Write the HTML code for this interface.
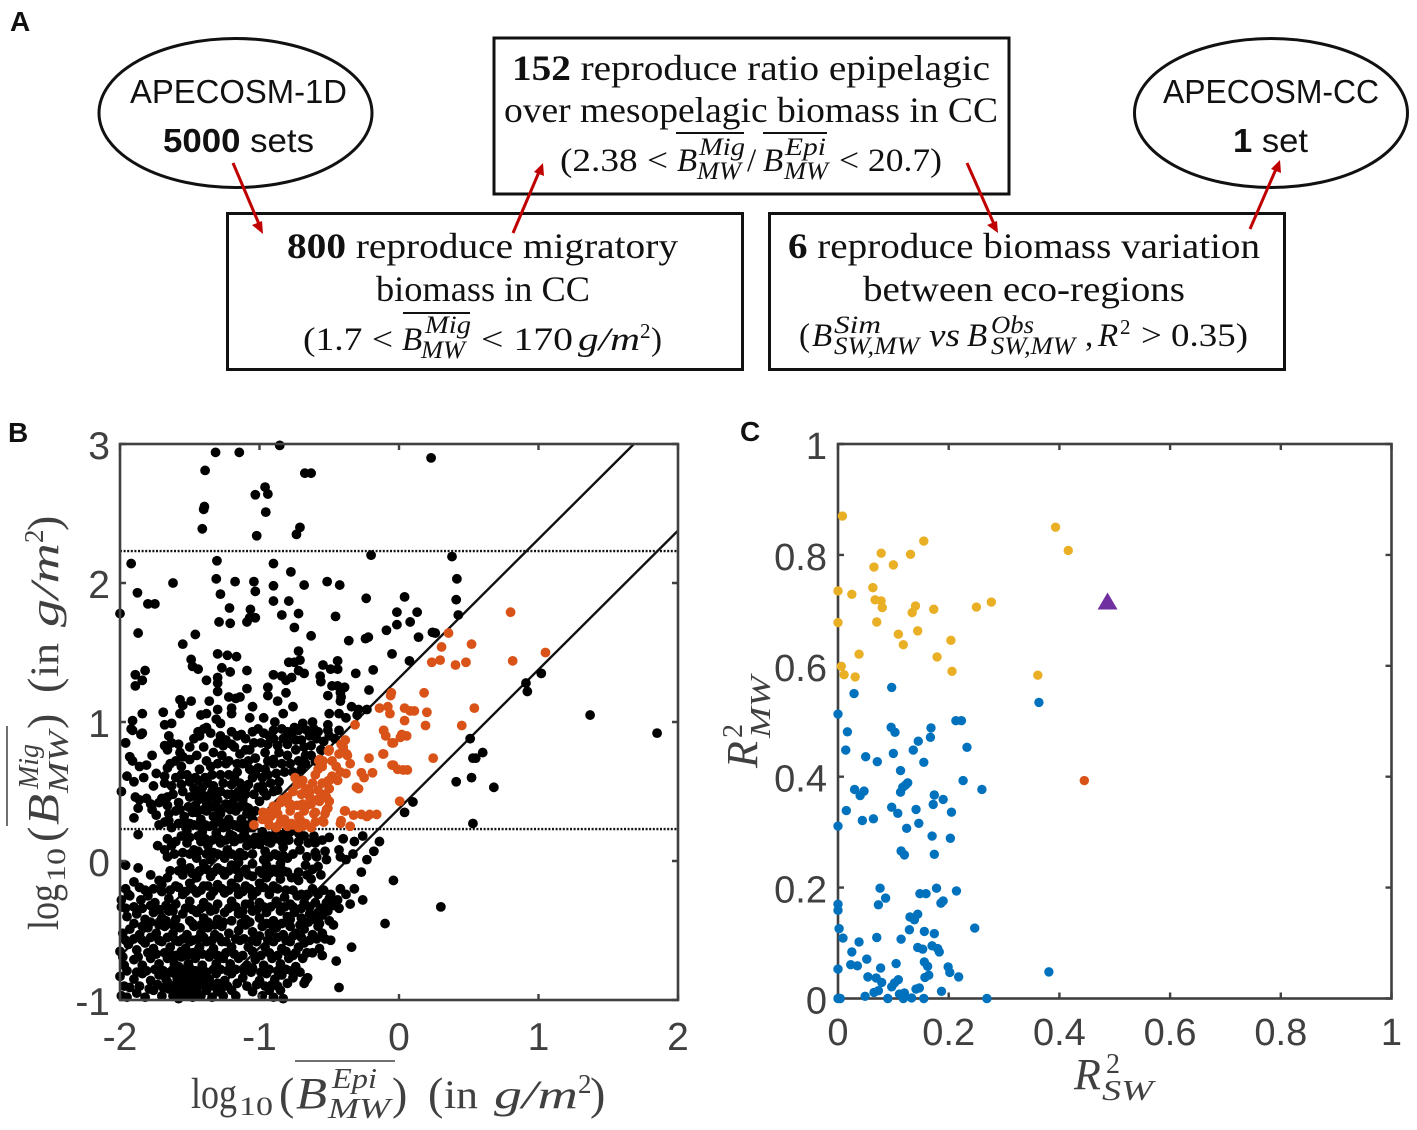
<!DOCTYPE html>
<html lang="en">
<head>
<meta charset="utf-8">
<title>APECOSM parameter selection</title>
<style>
html,body{margin:0;padding:0;background:#fff;width:1417px;height:1130px;overflow:hidden}
svg{display:block}
.dia{font-family:"Liberation Serif",serif;fill:#111}
.m{font-family:"Liberation Serif",serif;font-style:italic;fill:#111}
.s{font-family:"Liberation Sans",sans-serif;fill:#111}
.lab{font-family:"Liberation Serif",serif;fill:#404040}
.it{font-style:italic}
.tick{font-family:"Liberation Sans",sans-serif;fill:#404040}
</style>
</head>
<body>
<svg id="fig" width="1417" height="1130" viewBox="0 0 1417 1130" xmlns="http://www.w3.org/2000/svg">
<rect width="1417" height="1130" fill="#fff"/>

<text x="10" y="31" class="s" font-weight="700" font-size="28">A</text>
<text x="8" y="442" class="s" font-weight="700" font-size="28">B</text>
<text x="740" y="441" class="s" font-weight="700" font-size="28">C</text>

<g>
<ellipse cx="235.500" cy="113" rx="136.500" ry="74.500" fill="#fff" stroke="#111" stroke-width="3"/>
<ellipse cx="1271" cy="113" rx="136.500" ry="74.500" fill="#fff" stroke="#111" stroke-width="3"/>
<rect x="494" y="38" width="515" height="156" fill="#fff" stroke="#111" stroke-width="3"/>
<rect x="227.500" y="213.500" width="515" height="156" fill="#fff" stroke="#111" stroke-width="3"/>
<rect x="769.500" y="213.500" width="515" height="156" fill="#fff" stroke="#111" stroke-width="3"/>

<text x="130" y="103" class="s" font-size="33" textLength="217" lengthAdjust="spacingAndGlyphs">APECOSM-1D</text>
<text x="163" y="152" class="s" font-size="33" textLength="151" lengthAdjust="spacingAndGlyphs"><tspan font-weight="700">5000</tspan> sets</text>
<text x="1163" y="103" class="s" font-size="33" textLength="216" lengthAdjust="spacingAndGlyphs">APECOSM-CC</text>
<text x="1233" y="152" class="s" font-size="33" textLength="75" lengthAdjust="spacingAndGlyphs"><tspan font-weight="700">1</tspan> set</text>

<g>
<text x="512" y="80" class="dia" font-size="36" textLength="478" lengthAdjust="spacingAndGlyphs"><tspan font-weight="700">152</tspan> reproduce ratio epipelagic</text>
<text x="504" y="122" class="dia" font-size="36" textLength="494" lengthAdjust="spacingAndGlyphs">over mesopelagic biomass in CC</text>
<text x="560" y="171" class="dia" font-size="33" textLength="108" lengthAdjust="spacingAndGlyphs">(2.38 &lt;</text>
<text x="677" y="171" class="m" font-size="33">B</text>
<text x="699" y="155" class="m" font-size="25" textLength="46" lengthAdjust="spacingAndGlyphs">Mig</text>
<text x="697" y="179" class="m" font-size="25" textLength="44" lengthAdjust="spacingAndGlyphs">MW</text>
<line x1="676" y1="133" x2="744" y2="133" stroke="#111" stroke-width="2"/>
<text x="747" y="171" class="dia" font-size="33">/</text>
<text x="763" y="171" class="m" font-size="33">B</text>
<text x="785" y="155" class="m" font-size="25" textLength="41" lengthAdjust="spacingAndGlyphs">Epi</text>
<text x="784" y="179" class="m" font-size="25" textLength="44" lengthAdjust="spacingAndGlyphs">MW</text>
<line x1="763" y1="133" x2="827" y2="133" stroke="#111" stroke-width="2"/>
<text x="839" y="171" class="dia" font-size="33" textLength="103" lengthAdjust="spacingAndGlyphs">&lt; 20.7)</text>
</g>

<g>
<text x="287" y="258" class="dia" font-size="36" textLength="391" lengthAdjust="spacingAndGlyphs"><tspan font-weight="700">800</tspan> reproduce migratory</text>
<text x="376" y="301" class="dia" font-size="36" textLength="214" lengthAdjust="spacingAndGlyphs">biomass in CC</text>
<text x="303" y="350" class="dia" font-size="33" textLength="90" lengthAdjust="spacingAndGlyphs">(1.7 &lt;</text>
<text x="402" y="350" class="m" font-size="33">B</text>
<text x="425" y="333" class="m" font-size="25" textLength="46" lengthAdjust="spacingAndGlyphs">Mig</text>
<text x="421" y="358" class="m" font-size="25" textLength="44" lengthAdjust="spacingAndGlyphs">MW</text>
<line x1="403" y1="313" x2="470" y2="313" stroke="#111" stroke-width="2"/>
<text x="481" y="350" class="dia" font-size="33" textLength="92" lengthAdjust="spacingAndGlyphs">&lt; 170</text>
<text x="578" y="350" class="m" font-size="33" textLength="62" lengthAdjust="spacingAndGlyphs">g/m</text>
<text x="640" y="338" class="dia" font-size="21">2</text>
<text x="651" y="350" class="dia" font-size="33">)</text>
</g>

<g>
<text x="788" y="258" class="dia" font-size="36" textLength="472" lengthAdjust="spacingAndGlyphs"><tspan font-weight="700">6</tspan> reproduce biomass variation</text>
<text x="863" y="301" class="dia" font-size="36" textLength="322" lengthAdjust="spacingAndGlyphs">between eco-regions</text>
<text x="799" y="346" class="dia" font-size="33">(</text>
<text x="812" y="346" class="m" font-size="33">B</text>
<text x="834" y="333" class="m" font-size="25" textLength="47" lengthAdjust="spacingAndGlyphs">Sim</text>
<text x="834" y="354" class="m" font-size="25" textLength="85" lengthAdjust="spacingAndGlyphs">SW,MW</text>
<text x="929" y="346" class="m" font-size="33" textLength="31" lengthAdjust="spacingAndGlyphs">vs</text>
<text x="967" y="346" class="m" font-size="33">B</text>
<text x="991" y="333" class="m" font-size="25" textLength="43" lengthAdjust="spacingAndGlyphs">Obs</text>
<text x="991" y="354" class="m" font-size="25" textLength="84" lengthAdjust="spacingAndGlyphs">SW,MW</text>
<text x="1085" y="346" class="dia" font-size="33">,</text>
<text x="1098" y="346" class="m" font-size="33">R</text>
<text x="1120" y="334" class="dia" font-size="21">2</text>
<text x="1141" y="346" class="dia" font-size="33" textLength="107" lengthAdjust="spacingAndGlyphs">&gt; 0.35)</text>
</g>

<g stroke="#c00000" stroke-width="3" fill="#c00000">
<g><line x1="233" y1="163" x2="259" y2="224"/><polygon stroke="none" points="263,234 252,225 262,221"/></g>
<g><line x1="513" y1="233" x2="539" y2="172"/><polygon stroke="none" points="543,163 544,176 534,172"/></g>
<g><line x1="967" y1="163" x2="994" y2="224"/><polygon stroke="none" points="998,233 987,225 997,221"/></g>
<g><line x1="1250" y1="229" x2="1276" y2="169"/><polygon stroke="none" points="1280,160 1281,173 1271,169"/></g>
</g>
</g>

<g id="panelB"></g>
<g id="panelC"></g>

<g>
<text x="191" y="1108" class="lab" font-size="43" textLength="46" lengthAdjust="spacingAndGlyphs">log</text>
<text x="239" y="1115" class="lab" font-size="26" textLength="34" lengthAdjust="spacingAndGlyphs">10</text>
<text x="279" y="1109" class="lab" font-size="46">(</text>
<text x="296" y="1108" class="lab it" font-size="44" textLength="31" lengthAdjust="spacingAndGlyphs">B</text>
<text x="332" y="1088" class="lab it" font-size="28" textLength="45" lengthAdjust="spacingAndGlyphs">Epi</text>
<text x="328" y="1118" class="lab it" font-size="28" textLength="62" lengthAdjust="spacingAndGlyphs">MW</text>
<line x1="295" y1="1061" x2="395" y2="1061" stroke="#404040" stroke-width="1.500"/>
<text x="392" y="1109" class="lab" font-size="46">)</text>
<text x="428" y="1109" class="lab" font-size="46">(</text>
<text x="444" y="1108" class="lab" font-size="40" textLength="34" lengthAdjust="spacingAndGlyphs">in</text>
<text x="494" y="1108" class="lab it" font-size="40" textLength="84" lengthAdjust="spacingAndGlyphs">g/m</text>
<text x="578" y="1093" class="lab" font-size="27">2</text>
<text x="590" y="1109" class="lab" font-size="46">)</text>
</g>

<g transform="translate(-1050,1121) rotate(-90)">
<text x="191" y="1108" class="lab" font-size="43" textLength="46" lengthAdjust="spacingAndGlyphs">log</text>
<text x="239" y="1115" class="lab" font-size="26" textLength="34" lengthAdjust="spacingAndGlyphs">10</text>
<text x="279" y="1109" class="lab" font-size="46">(</text>
<text x="296" y="1108" class="lab it" font-size="44" textLength="31" lengthAdjust="spacingAndGlyphs">B</text>
<text x="332" y="1088" class="lab it" font-size="28" textLength="45" lengthAdjust="spacingAndGlyphs">Mig</text>
<text x="328" y="1118" class="lab it" font-size="28" textLength="62" lengthAdjust="spacingAndGlyphs">MW</text>
<line x1="295" y1="1057" x2="395" y2="1057" stroke="#404040" stroke-width="1.500"/>
<text x="392" y="1109" class="lab" font-size="46">)</text>
<text x="428" y="1109" class="lab" font-size="46">(</text>
<text x="444" y="1108" class="lab" font-size="40" textLength="34" lengthAdjust="spacingAndGlyphs">in</text>
<text x="494" y="1108" class="lab it" font-size="40" textLength="84" lengthAdjust="spacingAndGlyphs">g/m</text>
<text x="578" y="1093" class="lab" font-size="27">2</text>
<text x="590" y="1109" class="lab" font-size="46">)</text>
</g>

<g>
<text x="1074" y="1089" class="lab it" font-size="44">R</text>
<text x="1106" y="1073" class="lab" font-size="28">2</text>
<text x="1102" y="1100" class="lab it" font-size="28" textLength="51" lengthAdjust="spacingAndGlyphs">SW</text>
</g>
<g transform="translate(757,768) rotate(-90)">
<text x="0" y="0" class="lab it" font-size="44">R</text>
<text x="30" y="-15" class="lab" font-size="28">2</text>
<text x="30" y="13" class="lab it" font-size="28" textLength="62" lengthAdjust="spacingAndGlyphs">MW</text>
</g>
</svg>

<script>
const NS = 'http://www.w3.org/2000/svg';

/* Panel B data: [log10 epipelagic biomass, log10 migratory biomass] */
const rejectedPoints = [
[-2,1.78],[-1.92,2.14],[-1.875,1.93],[-1.8,1.85],[-1.75,1.85],[-1.87,1.64],[-1.62,2],[-1.55,1.56],[-1.46,1.63],[-1.41,2.39],[-1.4,2.53],[-1.395,2.55],[-1.39,2.81],[-1.315,2.94],[-1.145,2.94],[-.855,2.99],[.23,2.9],[-1.03,2.635],[-.96,2.69],[-.94,2.64],[-.955,2.51],[-1.02,2.34],[-.735,2.35],[-.71,2.4],[-.675,2.79],[-.63,2.79],[-.2,2.2],[.38,2.19],[.415,2.03],[.41,1.88],[.425,1.77],
[-1.305,2.16],[-.9,2.14],[-.775,2.08],[-1.31,2.03],[-1.175,2.01],[-1.04,2.01],[-1.03,1.94],[-.9,1.98],[-.68,1.985],[-.515,2.01],[-.425,1.985],[-.235,1.89],[.04,1.9],[-1.28,1.92],[-1.215,1.82],[-1.065,1.81],[-1.03,1.75],[-1.09,1.72],[-1.07,1.75],[-.9,1.87],[-.79,1.87],[-.72,1.78],[-.84,1.77],[-.455,1.76],[-1.29,1.72],[-1.21,1.71],[-.75,1.68],[-.63,1.62],[-.015,1.79],[.13,1.79],[-.015,1.7],[.08,1.72],[-.09,1.66],[.14,1.61],[.24,1.645],[.26,1.64],[-.36,1.585],[-.24,1.6],[-.22,1.61],[-.05,1.49],[.075,1.44],[-.185,1.375],[-.31,1.35],
[-1.3,1.49],[-1.23,1.48],[-1.165,1.47],[-1.49,1.45],[-1.48,1.4],[-1.44,1.38],[-.72,1.51],[-.79,1.43],[-.75,1.43],[-.71,1.445],[-.545,1.41],[-.44,1.44],[-.49,1.38],[-.44,1.38],[-1.27,1.39],[-1.21,1.36],[-1.09,1.37],[-1.89,1.34],[-1.84,1.3],[-1.89,1.26],[-1.82,1.37],[-.9,1.34],[-.84,1.33],[-.81,1.3],[-.77,1.32],[-.72,1.37],[-.68,1.35],[-.565,1.33],[-.56,1.29],[-1.38,1.3],[-1.3,1.32],[-1.3,1.28],[-1.3,1.22],[-.48,1.26],[-.51,1.19],[-.415,1.18],[-.39,1.25],[-.44,1.26],[-.42,1.21],[-.215,1.23],[-1.09,1.24],[-.94,1.25],[-.94,1.19],[-.81,1.21],[-1.57,1.16],[-1.49,1.15],[-1.55,1.12],[-1.57,1.06],[-1.22,1.18],[-1.14,1.18],[-1.17,1.17],[-1.36,1.15],[-1.3,1.09],[-1.42,1.05],[-1.38,1.06],[-1.2,1.1],[-1.2,1.06],[-1.05,1.11],[-.87,1.15],[-.76,1.11],[-.83,1.06],[-.42,1.15],[-.34,1.11],[-.29,1.09],[-.3,1.05],[-.23,1.09],[-1.69,1.07],[-1.84,1.06],[-1.91,1.01],[-1.91,.94],[-1.85,.91],[-1.96,.85],[-1.68,.98],[-1.63,.99],[-1.65,.9],[-1.68,.83],[-1.58,.84],[-1.66,.8],[-1.38,.96],[-1.31,1.02],[-1.28,.99],[-1.07,1.03],[-.97,1.03],[-.89,1],[-.5,1.06],[-.43,1.06],[-.38,1.03],[-.51,.98],[-.51,.94],[-.43,.94],[-.69,.99],[-.62,1],[-.72,.94],[-.66,.94],[-.61,.95],
[.51,.88],[.91,1.28],[.92,1.22],[1.02,1.35],[1.37,1.05],[1.85,.92],[.6,.78],[.53,.74],[.55,.74],[.41,.57],[.52,.6],[.68,.53],[.1,.425],[.04,.35],[.53,.27],[-.14,.14],[-.04,-.14],[.3,-.33],[-.1,-.45],[-.49,-.57],[-.34,-.62],[-.45,-.72],[-.43,-.91],[-.67,-.86],[-.655,-.84],[-.68,-.88],[-.26,-.28],[-.35,-.31],[-.32,-.2],[-.27,-.08],[-.23,.01],[-.18,.07],[-.26,.18],[-.32,.14],[-.4,.16],[-.43,.08],[-.38,.01],[-.42,.03],[-.33,.05],
[-1.99,.5],[-1.96,.85],[-1.92,.95],[-1.84,.92],[-1.93,.75],[-1.91,.72],[-1.77,.76],[-1.86,.68],[-1.81,.69],[-1.74,.63],[-1.83,.6],[-1.9,.57],[-1.95,.61],[-1.76,.54],[-1.68,.61],[-1.68,.56],[-1.7,.45],[-1.89,.46],[-1.86,.44],[-1.81,.45],[-1.78,.41],[-1.9,.31],[-1.87,.38],[-1.77,.37],[-1.74,.33],
[-1.63,.85],[-1.55,.75],[-1.5,.73],[-1.45,.76],[-1.4,.82],[-1.38,.72],[-1.33,.78],[-1.3,.85],[-1.27,.76],[-1.22,.72],[-1.18,.82],[-1.14,.77],[-1.1,.88],[-1.07,.8],[-1.03,.74],[-.99,.85],[-.96,.78],[-.93,.9],[-.9,.73],[-.87,.83],[-.83,.88],[-.8,.76],[-.77,.9],[-.74,.8],[-.7,.87],[-.67,.76],[-.63,.83],[-.59,.88],[-.56,.8],[-1.35,.92],[-1.28,.9],[-1.24,.87],[-1.2,.93],[-1.13,.91],[-1.05,.93],[-1.01,.95],[-.97,.92],[-.9,.94],[-.84,.95],[-.8,.93],[-.75,.96],[-1.47,.88],[-1.43,.9],[-1.5,.82],[-1.57,.78],[-1.6,.72],
[-1.66,.67],[-1.6,.6],[-1.56,.68],[-1.52,.62],[-1.47,.52],[-1.43,.66],[-1.39,.6],[-1.35,.68],[-1.33,.54],[-1.28,.62],[-1.24,.7],[-1.2,.55],[-1.16,.64],[-1.12,.7],[-1.1,.52],[-1.05,.6],[-1.01,.67],[-.98,.54],[-.94,.62],[-.9,.7],[-.86,.57],[-.82,.64],[-.78,.7],[-.74,.62],[-.7,.66],[-1.5,.57],[-1.41,.53],[-1.37,.56],[-1.26,.56],[-1.22,.62],[-1.14,.56],[-1.07,.66],[-.96,.66],[-.92,.56],
[-1.62,.48],[-1.58,.42],[-1.55,.5],[-1.5,.46],[-1.46,.4],[-1.42,.48],[-1.38,.42],[-1.34,.5],[-1.3,.44],[-1.26,.38],[-1.23,.48],[-1.19,.42],[-1.15,.5],[-1.12,.44],[-1.08,.38],[-1.04,.48],[-1,.43],[-.97,.5],[-1.6,.36],[-1.54,.32],[-1.48,.35],[-1.42,.3],[-1.38,.36],[-1.33,.32],[-1.28,.34],[-1.22,.3],[-1.17,.36],[-1.13,.3],[-1.09,.34],[-1.05,.3],[-1.66,.4],[-1.65,.34],[-1.44,.44],[-1.36,.47],[-1.21,.37],
[-1.68,.28],[-1.63,.24],[-1.58,.27],[-1.52,.22],[-1.47,.26],[-1.41,.21],[-1.36,.25],[-1.31,.2],[-1.26,.24],[-1.21,.19],[-1.16,.25],[-1.11,.2],[-1.07,.24],[-1.03,.17],[-.98,.21],[-.93,.18],[-.88,.22],[-.83,.19],[-.78,.21],[-.72,.2],[-.72,.14],[-.61,.18],[-.6,.13],[-.55,.15],[-.71,.08],[-.6,.06],[-.59,.03],[-1.87,.19],[-1.73,.11],[-1.68,.08],[-1.63,.11],[-1.66,.03],[-1.6,.14],
[-1.52,.13],[-1.47,.08],[-1.42,.14],[-1.37,.11],[-1.33,.06],[-1.28,.13],[-1.23,.08],[-1.18,.14],[-1.14,.06],[-1.09,.11],[-1.05,.05],[-1,.12],[-.96,.07],[-.92,.13],[-.87,.04],[-.83,.1],[-.8,.02],
[-1.56,-.01],[-1.5,-.05],[-1.45,.02],[-1.4,-.02],[-1.35,.01],[-1.3,-.05],[-1.25,.02],[-1.2,-.03],[-1.15,-.01],[-1.1,-.06],[-1.05,-.02],[-1,-.07],[-.95,-.03],[-.9,-.06],[-.85,-.02],[-.8,-.08],[-.72,-.08],[-.67,-.03],[-.62,-.06],[-.58,-.04],[-.63,-.13],[-.52,.01],
[-1.96,-.03],[-1.87,-.05],[-1.78,-.1],[-1.9,-.15],[-1.96,-.2],[-1.86,-.19],[-1.72,-.14],[-1.66,-.12],[-1.6,-.18],[-1.55,-.1],[-1.5,-.16],[-1.45,-.12],[-1.4,-.18],[-1.35,-.11],[-1.3,-.17],[-1.25,-.1],[-1.2,-.16],[-1.15,-.12],[-1.1,-.18],[-1.05,-.11],[-1,-.16],[-.95,-.12],[-.9,-.18],[-.85,-.13],[-.62,-.2],[-.66,-.24],[-.54,-.21],[-.49,-.24],[-.44,-.28],[-.42,-.2],[-.47,-.32],[-.43,-.34],[-.38,-.24],
[-1.99,-.28],[-1.99,-.33],[-1.93,-.25],[-1.85,-.28],[-1.8,-.25],[-1.75,-.3],[-1.7,-.22],[-1.65,-.27],[-1.6,-.31],[-1.55,-.24],[-1.5,-.29],[-1.45,-.23],[-1.4,-.3],[-1.35,-.25],[-1.3,-.31],[-1.25,-.23],[-1.2,-.29],[-1.15,-.24],[-1.1,-.31],[-1.05,-.25],[-1,-.3],[-.93,-.24],[-.88,-.29],[-.82,-.26],[-.78,-.31],[-.73,-.25],[-.68,-.3],[-.6,-.3],[-.52,-.3],[-.56,-.34],
[-1.95,-.4],[-1.88,-.38],[-1.82,-.42],[-1.76,-.37],[-1.7,-.41],[-1.65,-.36],[-1.6,-.42],[-1.55,-.38],[-1.5,-.43],[-1.45,-.37],[-1.4,-.41],[-1.35,-.36],[-1.3,-.42],[-1.25,-.37],[-1.2,-.43],[-1.15,-.38],[-1.1,-.42],[-1.05,-.36],[-1,-.41],[-.95,-.37],[-.9,-.43],[-.85,-.36],[-.8,-.4],[-.75,-.37],[-.7,-.41],[-.64,-.38],[-.6,-.42],[-.55,-.39],[-.5,-.43],[-.47,-.46],
[-1.98,-.52],[-1.93,-.49],[-1.86,-.53],[-1.8,-.48],[-1.74,-.52],[-1.68,-.47],[-1.62,-.52],[-1.57,-.48],[-1.52,-.53],[-1.47,-.47],[-1.42,-.52],[-1.37,-.48],[-1.32,-.53],[-1.27,-.47],[-1.22,-.52],[-1.15,-.5],[-1.1,-.46],[-1.05,-.51],[-.98,-.47],[-.93,-.52],[-.88,-.48],[-.83,-.53],[-.78,-.47],[-.74,-.52],[-.68,-.49],[-.62,-.53],[-.58,-.47],[-.55,-.52],[-.53,-.56],
[-2,-.65],[-1.94,-.6],[-1.88,-.64],[-1.82,-.59],[-1.76,-.63],[-1.7,-.58],[-1.64,-.62],[-1.58,-.58],[-1.53,-.63],[-1.48,-.57],[-1.43,-.62],[-1.38,-.58],[-1.33,-.63],[-1.27,-.58],[-1.2,-.62],[-1.14,-.57],[-1.08,-.62],[-1.02,-.58],[-.96,-.62],[-.9,-.58],[-.84,-.63],[-.78,-.58],[-.72,-.62],[-.68,-.59],[-.62,-.66],[-.57,-.63],[-.55,-.68],
[-1.97,-.75],[-1.9,-.71],[-1.84,-.75],[-1.78,-.7],[-1.72,-.74],[-1.66,-.7],[-1.61,-.74],[-1.56,-.69],[-1.51,-.74],[-1.46,-.7],[-1.41,-.75],[-1.36,-.69],[-1.31,-.74],[-1.26,-.7],[-1.21,-.74],[-1.15,-.7],[-1.09,-.75],[-1.03,-.71],[-.97,-.75],[-.91,-.7],[-.85,-.74],[-.79,-.7],[-.74,-.76],[-.69,-.7],[-.74,-.66],[-.71,-.8],
[-2,-.83],[-1.97,-.9],[-1.9,-.85],[-1.84,-.81],[-1.78,-.86],[-1.72,-.82],[-1.66,-.87],[-1.61,-.81],[-1.56,-.86],[-1.51,-.8],[-1.46,-.85],[-1.41,-.8],[-1.36,-.85],[-1.31,-.81],[-1.25,-.86],[-1.2,-.81],[-1.12,-.84],[-1.06,-.8],[-1,-.86],[-.95,-.81],[-.89,-.85],[-.84,-.82],[-.8,-.88],[-.76,-.84],
[-1.99,-.97],[-1.95,-.98],[-1.88,-.95],[-1.82,-.98],[-1.76,-.93],[-1.7,-.97],[-1.65,-.92],[-1.62,-.97],[-1.6,-.93],[-1.58,-.99],[-1.56,-.94],[-1.54,-.9],[-1.52,-.97],[-1.5,-.92],[-1.48,-.98],[-1.45,-.93],[-1.42,-.97],[-1.38,-.93],[-1.34,-.98],[-1.3,-.94],[-1.26,-.97],[-1.2,-.93],[-1.17,-.97],[-1.05,-.94],[-.98,-.97],[-.93,-.93],[-.9,-.98],[-.85,-.93],[-.83,-.99],
[-1.67,-.85],[-1.63,-.9],[-1.59,-.85],[-1.55,-.84],[-1.52,-.87],[-1.48,-.85],[-1.44,-.89],[-1.42,-.83],[-1.62,-.78],[-1.58,-.76],[-1.54,-.78],[-1.5,-.77],[-1.46,-.79],[-1.6,-.68],[-1.56,-.65],[-1.48,-.66],[-1.44,-.64],[-1.35,-.9],[-1.3,-.88],[-1.27,-.91]
];
const rejectedPointsCore = [
[-1.93,-.91],[-1.86,-.9],[-1.79,-.92],[-1.73,-.89],[-1.69,-.91],[-1.6,-.89],[-1.56,-.9],[-1.47,-.9],[-1.4,-.89],[-1.32,-.9],[-1.23,-.9],[-1.16,-.88],[-1.09,-.9],[-1.02,-.89],[-.96,-.9],[-.91,-.89],[-.87,-.9],
[-1.95,-.79],[-1.88,-.8],[-1.81,-.79],[-1.75,-.78],[-1.69,-.79],[-1.64,-.8],[-1.58,-.81],[-1.53,-.81],[-1.43,-.79],[-1.38,-.8],[-1.33,-.78],[-1.28,-.78],[-1.23,-.79],[-1.17,-.78],[-1.11,-.79],[-1.05,-.77],[-.99,-.8],[-.93,-.78],[-.87,-.79],[-.81,-.78],[-.77,-.79],
[-1.98,-.69],[-1.87,-.69],[-1.8,-.66],[-1.74,-.67],[-1.68,-.66],[-1.63,-.68],[-1.52,-.68],[-1.41,-.67],[-1.35,-.66],[-1.3,-.68],[-1.24,-.66],[-1.18,-.67],[-1.12,-.68],[-1.05,-.65],[-.99,-.68],[-.93,-.66],[-.87,-.68],[-.81,-.65],[-.76,-.68],[-.66,-.66],
[-1.96,-.57],[-1.9,-.56],[-1.84,-.57],[-1.78,-.55],[-1.72,-.57],[-1.66,-.55],[-1.6,-.57],[-1.55,-.56],[-1.5,-.58],[-1.44,-.56],[-1.4,-.55],[-1.34,-.57],[-1.29,-.55],[-1.24,-.58],[-1.17,-.56],[-1.11,-.56],[-1.05,-.57],[-1,-.54],[-.94,-.57],[-.87,-.55],[-.81,-.57],[-.76,-.54],[-.7,-.55],[-.64,-.57],[-.59,-.56],
[-1.9,-.45],[-1.84,-.47],[-1.78,-.44],[-1.72,-.46],[-1.67,-.43],[-1.62,-.46],[-1.48,-.45],[-1.42,-.46],[-1.37,-.44],[-1.32,-.46],[-1.26,-.44],[-1.13,-.45],[-1.07,-.44],[-.95,-.45],[-.9,-.47],[-.84,-.45],[-.78,-.42],[-.71,-.46],[-.65,-.44],[-.57,-.45],
[-1.96,-.34],[-1.9,-.33],[-1.84,-.34],[-1.78,-.32],[-1.72,-.35],[-1.67,-.32],[-1.62,-.36],[-1.53,-.34],[-1.48,-.35],[-1.42,-.34],[-1.37,-.33],[-1.32,-.35],[-1.22,-.34],[-1.17,-.33],[-1.12,-.36],[-1.07,-.31],[-1.02,-.35],[-.97,-.33],[-.92,-.33],[-.87,-.31],[-.82,-.33],[-.76,-.33],[-.7,-.34],[-.64,-.33],[-.58,-.37],[-.51,-.36],
[-1.94,-.24],[-1.82,-.21],[-1.76,-.2],[-1.7,-.17],[-1.64,-.21],[-1.58,-.19],[-1.53,-.22],[-1.48,-.2],[-1.42,-.21],[-1.37,-.18],[-1.33,-.22],[-1.27,-.2],[-1.22,-.21],[-1.17,-.19],[-1.12,-.22],[-1.07,-.2],[-1.02,-.22],[-.97,-.19],[-.92,-.21],[-.87,-.2],[-.81,-.21],[-.76,-.21],[-.7,-.24],[-.58,-.24],[-.5,-.27],
[-1.64,-.07],[-1.58,-.07],[-1.53,-.06],[-1.48,-.09],[-1.43,-.07],[-1.38,-.06],[-1.33,-.08],[-1.27,-.07],[-1.22,-.07],[-1.17,-.06],[-1.13,-.08],[-1.08,-.1],[-.98,-.09],[-.93,-.09],[-.88,-.08],[-.83,-.07],[-.77,-.12],[-.72,-.14],[-.66,-.1],[-.56,-.1],
[-1.61,.05],[-1.55,.06],[-1.5,.05],[-1.44,.07],[-1.38,.05],[-1.3,.05],[-1.26,.04],[-1.2,.05],[-1.16,.03],[-1.11,.04],[-.97,.01],[-.93,.03],[-.89,.05],[-.83,.04],[-.76,.05],[-.66,.03],[-.53,.07],
[-1.66,.16],[-1.56,.18],[-1.5,.17],[-1.44,.18],[-1.39,.16],[-1.34,.15],[-1.29,.16],[-1.24,.15],[-1.19,.18],[-1.14,.16],[-1.09,.16],[-1.04,.12],[-.99,.16],[-.94,.14],[-.89,.16],[-.84,.14],[-.79,.15],[-.68,.18],[-.65,.13],[-.5,.17],
[-1.72,.26],[-1.65,.29],[-1.55,.27],[-1.5,.27],[-1.44,.26],[-1.39,.26],[-1.33,.26],[-1.28,.28],[-1.23,.25],[-1.18,.26],[-1.14,.24],[-1.1,.26],[-1.05,.24],
[-1.72,.42],[-1.66,.46],[-1.57,.37],[-1.51,.39],[-1.45,.35],[-1.4,.37],[-1.34,.39],[-1.3,.38],[-1.24,.41],[-1.18,.37],[-1.14,.39],[-1.1,.39],[-1.03,.36],
[-1.63,.54],[-1.56,.55],[-1.45,.47],[-1.4,.47],[-1.32,.45],[-1.28,.5],[-1.2,.48],[-1.17,.46],[-1.1,.48],[-1.08,.55],[-1.01,.53],[-.95,.47],[-.9,.5],[-.87,.51],
[-1.64,.7],[-1.56,.62],[-1.46,.6],[-1.44,.58],[-1.34,.62],[-1.3,.7],[-1.18,.6],[-1.16,.7],[-1.08,.72],[-1.03,.63],[-.98,.6],[-.94,.72],[-.88,.63],[-.84,.7],[-.76,.64],[-.72,.72],[-.67,.7],[-.63,.76],[-.6,.72],
[-1.44,.93],[-1.4,.95],[-1.26,.83],[-1.2,.84],[-1.16,.9],[-1.1,.8],[-1.04,.85],[-.94,.84],[-.9,.88],[-.86,.78],[-.8,.84],[-.74,.87],[-.68,.82],[-.64,.9],[-.58,.93],[-.54,.86],[-.5,.9],[-.46,.88]
];
const selectedPoints = [
[.8,1.79],[.355,1.64],[.305,1.54],[.52,1.56],[1.05,1.5],[.815,1.44],[.235,1.43],[.295,1.445],[.405,1.41],[.48,1.43],[-.055,1.21],[-.06,1.19],[.18,1.21],[-.14,1.1],[-.08,1.11],[-.065,1.06],[.04,1.1],[.08,1.08],[.11,1.08],[.2,1.07],[.04,1.01],[.19,.975],[.45,.975],[.54,1.1],[-.315,.98],[-.11,.94],[-.095,.9],[.055,.9],[.01,.89],[-.05,.85],[-.115,.77],[.245,.74],[-.215,.74],[-.385,.87],[-.415,.84],[-.4,.805],[-.43,.77],[-.375,.77],[-.505,.79],[-.575,.72],[-.545,.72],[-.48,.72],[-.35,.7],[-.05,.69],[.03,.655],[-.01,.66],[-.19,.635],[-.27,.635],[-.25,.6],[-.48,.61],[-.51,.575],[-.305,.53],[.005,.43],[-.16,.335],[-.21,.335],[-.27,.335],[-.385,.36],[-.415,.29],[-.35,.25],[-.325,.33],
[-1.04,.26],[-.975,.35],[-.94,.29],[-.88,.24],[-.9,.395],[-.84,.44],[-.79,.41],[-.745,.6],[-.69,.58],[-.7,.48],[-.64,.46],[-.58,.51],[-.53,.48],[-.6,.35],[-.53,.34],[-.72,.32],[-.67,.27],[-.63,.24],[-.82,.3],[-.87,.34],[-.76,.26],[-.98,.3],[-.93,.26],[-.85,.28],[-.8,.25],[-.72,.24],[-.78,.36],[-.73,.4],[-.85,.42],[-.8,.46],[-.76,.5],[-.67,.52],[-.62,.56],[-.55,.56],[-.63,.41],[-.57,.43],[-.51,.38],[-.5,.43],[-.68,.36],[-.6,.28],[-.55,.29],[-.5,.52],[-.73,.55],[-.6,.62],[-.57,.45],[-.66,.4],[-.93,.35],[-.88,.38],[-.58,.66],[-.55,.68],[-.45,.68],[-.42,.64],[-.38,.63],
[-.71,.56],[-.64,.5],[-.83,.44],[-.88,.39],[-.78,.41],[-.69,.41],[-.59,.44],[-.52,.46],[-.52,.37],[-.61,.34],[-.71,.3],[-.77,.27],[-.92,.32],[-.97,.32],[-.87,.25],[-.69,.25],[-.54,.28],[-.4,.82],[-.37,.76],[-.57,.73],[-.5,.8],[-.5,.58],[-.44,.58],[-.29,.52],[-.39,.36],[-.42,.27],[-.23,.32],[-.11,.77],[-.04,.85],[.02,.91],[-.11,.94],[-.04,.69],[.06,.655]
];
const xTickValuesB = [-2,-1,0,1,2];
const yTickValuesB = [-1,0,1,2,3];
const ratioLineOffsets = [1.316,0.377];
const biomassLimits = [2.23,0.23];

/* Panel C data: [R2 sw, R2 mw] */
const ratioFailPoints = [
[.05,.436],[.071,.427],[.1,.442],[.014,.448],[.136,.448],[.155,.426],[.113,.411],[.226,.393],[.26,.377],[.03,.377],[.047,.374],[.04,.366],[.126,.389],[.122,.385],[.117,.381],[.113,.372],[.174,.367],[.172,.35],[.19,.359],[.015,.339],[.097,.345],[.108,.334],[.141,.341],[.205,.336],[.044,.321],[.064,.324],[0,.311],[.146,.316],[.124,.307],[.17,.293],[.203,.289],[.114,.266],[.12,.259],[.174,.26],[.076,.199],[.178,.199],[.214,.194],[.086,.181],[.148,.189],[.159,.189],[.073,.169],[0,.17],[0,.159],[.19,.176],[.186,.172],[.144,.152],[.13,.147],[.138,.142],[.247,.127],[.002,.126],[.129,.124],[.156,.121],[.174,.117],[.07,.11],[.009,.109],[.114,.107],[.038,.102],[.144,.092],[.153,.089],[.17,.095],[.18,.09],[.183,.084],[.025,.084],[.052,.071],[.023,.061],[.035,.059],[.105,.063],[.156,.066],[.162,.058],[.199,.057],[.202,.047],[0,.053],[.077,.055],[.381,.048],[.054,.039],[.069,.037],[.079,.029],[.164,.042],[.157,.038],[.218,.039],[.109,.034],[.102,.028],[.097,.021],[.147,.019],[.141,.017],[.073,.014],[.065,.011],[.187,.013],[.049,.004],[.111,.008],[.12,.01],[.118,0],[.133,.001],[.155,0],[.09,0],[.269,0],[0,0],[.004,0],
[.029,.55],[.097,.561],[0,.513],[.363,.534],[.213,.501],[.223,.501],[.096,.489],[.103,.48],[.017,.481],[.168,.488],[.167,.471],[.145,.464],[.233,.453]
];
const ratioPassPoints = [
[.008,.87],[.078,.803],[.155,.825],[.131,.801],[.065,.778],[.1,.782],[.393,.85],[.416,.808],[0,.735],[.025,.729],[.063,.741],[.067,.719],[.078,.717],[.08,.705],[.14,.708],[.134,.696],[.173,.702],[.25,.706],[.277,.715],[0,.678],[.07,.679],[.109,.657],[.144,.663],[.118,.638],[.204,.646],[.179,.616],[.038,.621],[.006,.599],[.011,.584],[.031,.58],[.206,.59],[.361,.583]
];
const variationOutlierPoints = [[.445,.393]];
const selectedSetPoint = [.487,.716];
const tickValuesC = [0,.2,.4,.6,.8,1];

function make(tag, attrs, parent, txt){
  const e = document.createElementNS(NS, tag);
  for (const k in attrs) e.setAttribute(k, attrs[k]);
  if (txt !== undefined) e.textContent = txt;
  parent.appendChild(e);
  return e;
}

/* ---------- Panel B ---------- */
const gB = document.getElementById('panelB');
const bX = { l:120, r:678, min:-2, max:2 };
const bY = { t:444, b:1000, min:-1, max:3 };
function xB(v){ return bX.l + (v - bX.min) * (bX.r - bX.l) / (bX.max - bX.min); }
function yB(v){ return bY.b - (v - bY.min) * (bY.b - bY.t) / (bY.max - bY.min); }

biomassLimits.forEach(function(v){
  const l = make('line', {x1:xB(-2), x2:xB(2), y1:yB(v), y2:yB(v), stroke:'#111', 'stroke-width':2.4, 'stroke-dasharray':'2 1.6'}, gB);
  
  
});
ratioLineOffsets.forEach(function(k){
  const x0 = Math.max(-2, -1 - k), x1 = Math.min(2, 3 - k);
  const l = make('line', {x1:xB(x0), y1:yB(x0 + k), x2:xB(x1), y2:yB(x1 + k), stroke:'#111', 'stroke-width':2.4}, gB);
  
  
});
rejectedPoints.concat(rejectedPointsCore).forEach(function(p){
  const c = make('circle', {cx:xB(p[0]), cy:yB(p[1]), r:4.9, fill:'#000'}, gB);
  
  
});
selectedPoints.forEach(function(p){
  const c = make('circle', {cx:xB(p[0]), cy:yB(p[1]), r:4.9, fill:'#d95319'}, gB);
  
  
});
const frameB = make('rect', {x:bX.l, y:bY.t, width:bX.r-bX.l, height:bY.b-bY.t, fill:'none', stroke:'#404040', 'stroke-width':2.6}, gB);


xTickValuesB.forEach(function(v){
  const x = xB(v);
  make('path', {d:'M'+x+' '+bY.b+'v-6M'+x+' '+bY.t+'v6', stroke:'#404040', 'stroke-width':2.4, fill:'none'}, gB);
  const t = make('text', {x:x, y:1050, class:'tick', 'font-size':39, 'text-anchor':'middle'}, gB, String(v));
  
  
});
yTickValuesB.forEach(function(v){
  const y = yB(v);
  make('path', {d:'M'+bX.l+' '+y+'h6M'+bX.r+' '+y+'h-6', stroke:'#404040', 'stroke-width':2.4, fill:'none'}, gB);
  const t = make('text', {x:110, y:y+15, class:'tick', 'font-size':39, 'text-anchor':'end'}, gB, String(v));
  
  
});

/* ---------- Panel C ---------- */
const gC = document.getElementById('panelC');
const cX = { l:838, r:1391.5 };
const cY = { t:444, b:998.5 };
function xC(v){ return cX.l + v * (cX.r - cX.l); }
function yC(v){ return cY.b - v * (cY.b - cY.t); }

const frameC = make('rect', {x:cX.l, y:cY.t, width:cX.r-cX.l, height:cY.b-cY.t, fill:'none', stroke:'#404040', 'stroke-width':2.6}, gC);


tickValuesC.forEach(function(v){
  const x = xC(v), y = yC(v);
  make('path', {d:'M'+x+' '+cY.b+'v-6M'+x+' '+cY.t+'v6M'+cX.l+' '+y+'h6M'+cX.r+' '+y+'h-6', stroke:'#404040', 'stroke-width':2.4, fill:'none'}, gC);
  const a = make('text', {x:x, y:1045, class:'tick', 'font-size':38, 'text-anchor':'middle'}, gC, String(v));
  
  
  const b = make('text', {x:827, y:y+15, class:'tick', 'font-size':38, 'text-anchor':'end'}, gC, String(v));
  
  
});
ratioFailPoints.forEach(function(p){
  const c = make('circle', {cx:xC(p[0]), cy:yC(p[1]), r:4.7, fill:'#0072bd'}, gC);
  
  
});
ratioPassPoints.forEach(function(p){
  const c = make('circle', {cx:xC(p[0]), cy:yC(p[1]), r:4.7, fill:'#e9af25'}, gC);
  
  
});
variationOutlierPoints.forEach(function(p){
  const c = make('circle', {cx:xC(p[0]), cy:yC(p[1]), r:4.7, fill:'#d95319'}, gC);
  
  
});
const sx = xC(selectedSetPoint[0]), sy = yC(selectedSetPoint[1]);
const tri = make('polygon', {points:(sx-10)+','+(sy+8)+' '+(sx+10)+','+(sy+8)+' '+sx+','+(sy-9), fill:'#7030a0'}, gC);


</script>
</body>
</html>
